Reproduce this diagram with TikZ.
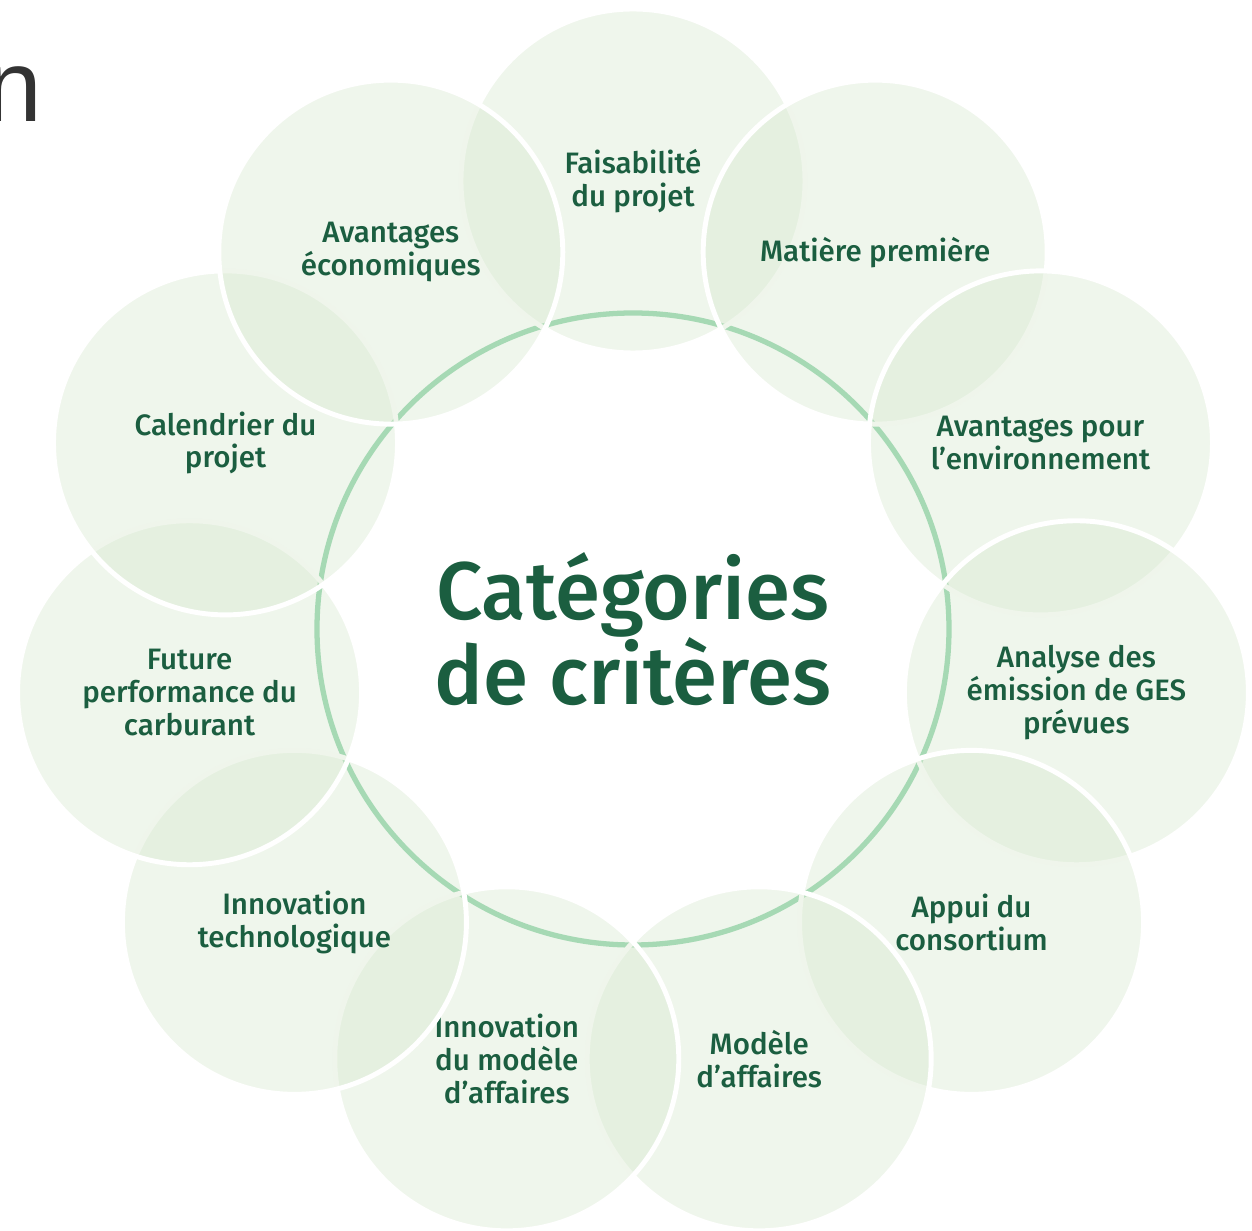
\documentclass[tikz,border=0pt]{standalone}
\usepackage{fontspec}
\setmainfont{Fira Sans}[UprightFont={* Medium}]
\newfontfamily\headfont{Liberation Sans}
\definecolor{leaf}{HTML}{1B5E40}
\definecolor{mint}{HTML}{86CFA2}
\definecolor{pale}{RGB}{215,232,207}
\definecolor{ink}{HTML}{333333}

\begin{document}
\begin{tikzpicture}[
  ring/.style={circle, minimum size=12.64cm, inner sep=0, draw=mint, line width=3pt},
  petal/.style={circle, minimum size=6.88cm, inner sep=0, fill=pale,
    fill opacity=0.4, text opacity=1, draw=white, draw opacity=1,
    line width=2.8pt, text=leaf, align=center,
    font=\fontsize{16.8}{18.7}\selectfont},
  heading/.style={text=leaf, align=center, inner sep=0,
    font=\fontsize{46.5}{48.8}\selectfont}
]
\useasboundingbox (-12.66,-12.04) rectangle (12.38,12.58);
\clip (-12.66,-12.04) rectangle (12.38,12.58);

% fragment of the slide heading at the top left
\node[font=\headfont\fontsize{58}{60}\selectfont, text=ink, anchor=base east,
  inner sep=0] (cut) at (-11.80,10.14) {n};

% inner ring
\node[ring] (hub) at (0,0) {};

% the eleven categories, stacked clockwise
\foreach \k/\txt in {
  0/{Faisabilité\\du projet},
  1/{Matière première},
  2/{Avantages pour\\l’environnement},
  3/{Analyse des\\émission de GES\\prévues},
  4/{Appui du\\consortium},
  5/{Modèle\\d’affaires},
  6/{Innovation\\du modèle\\d’affaires},
  7/{Innovation\\technologique},
  8/{Future\\performance du\\carburant},
  9/{Calendrier du\\projet},
  10/{Avantages\\économiques}}
  \node[petal] (petal\k) at ({90-\k*360/11}:8.96cm) {\txt};

% centre title
\node[heading] (title) at (0,0) {Catégories\\de critères};
\end{tikzpicture}
\end{document}
